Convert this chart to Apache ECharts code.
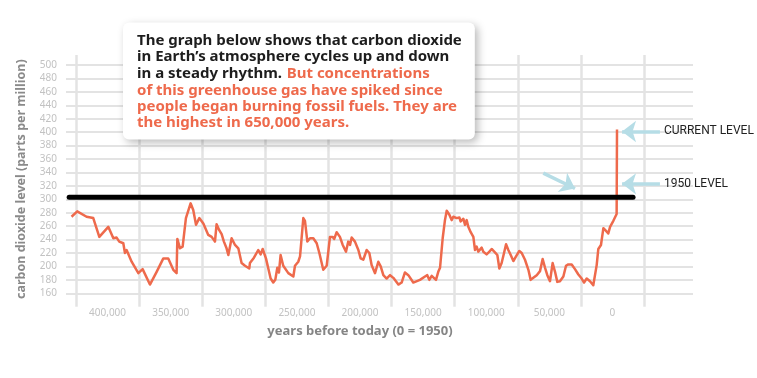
<!DOCTYPE html>
<html>
<head>
<meta charset="utf-8">
<script src="https://cdn.jsdelivr.net/npm/echarts@6/dist/echarts.min.js"></script>
<style>html,body{margin:0;padding:0;background:#fff;}#c{width:757px;height:378px;}</style>
</head>
<body>
<div id="c"></div>
<script>
// Years before 1950 (BP) and CO2 level (ppm)
const yearsBP = [432100,427600,420200,414900,410100,403000,399000,396400,394300,391100,389800,388500,384500,379200,375800,370000,364700,359400,355500,351500,348900,348300,346200,344100,341500,337800,335700,333500,330900,327700,323800,321100,318500,317200,315100,313200,311400,309300,307900,305300,302600,300000,297400,294700,291300,290800,287600,284200,282300,280700,278100,274400,272300,270700,269100,267800,266500,264400,260400,256400,255100,252500,251100,248500,247200,245300,243200,240600,237900,235800,234500,232700,230000,228700,227400,225300,224000,222100,219500,217300,214700,212900,211500,210200,207600,204900,203100,201000,198300,196200,194400,191700,189100,187200,185100,182500,179800,177200,173200,170600,168000,165300,161400,156100,152100,150300,148700,146800,143400,141600,140200,138100,136300,134900,132800,131000,129700,127000,124900,123900,121700,120400,119100,117800,115900,113800,112500,111200,109900,107200,105900,103300,101100,99300,96700,94800,93200,91400,89500,87900,86100,84200,82100,80000,77400,75500,72900,70200,68400,66300,63600,61000,58900,57000,55200,53100,51000,49100,47300,45200,42500,40400,38600,35900,33300,30600,28000,26100,24000,21400,18800,17400,16100,14800,12700,10800,8700,6900,5500,2900,300,0];
const co2ppm = [274,282,274,272,244,259,242,243,237,234.5,220,224.5,207,190,196,173,192,212,212,195,190,241,227,229.5,272,294,284,262,272,264,247,244,237,263,254,248,237,227,217,242,232,227,205,201,197,205,213,224.5,218,226,212,182,176,180,198,191,217,201,190,185,201,207,215,272,268,237,242,242,234.5,220,222,195,201,222,244,244,241,251,244,232,222,237,232,243,237,224.5,212,210,224.5,220,202,190,207,200,187,182,187,183,173,176,191,187,176,180,185,187,180,186,180,192,198,242,269,283,277,269,274,272,273,267,271,262,269,259,251,244,224.5,229.5,222,228,222,218,222,226,221,217,197,205,220,233,224.5,217,208,215,223,220,210,195,180,183,187,193,211,198,187,178,205,192,177,178,185,201,203,203,196,188,182,176,182,178,172,171,202,226,232,257,253,249,259,268,278,404];

// 1950 reference level (ppm) and its extent in years BP
const level1950 = 303;
const levelLineYears = [434000, -12700];

// Annotation arrows: [fromYear, fromPpm, toYear, toPpm]
const currentArrow = [-34000, 401, -4000, 401];
const level1950Arrow = [-34000, 323, -4000, 323];
const curvedArrow = [58400, 339, 33300, 316];
const currentLabel = 'CURRENT LEVEL';
const level1950Label = '1950 LEVEL';

// Tick labels
const xTickLabels = ['400,000','350,000','300,000','250,000','200,000','150,000','100,000','50,000','0'];
const yMin = 160, yMax = 500, yStep = 20;

const blackText = ['The graph below shows that carbon dioxide', 'in Earth\u2019s atmosphere cycles up and down', 'in a steady rhythm.'];
const orangeText = ['But concentrations', 'of this greenhouse gas have spiked since', 'people began burning fossil fuels. They are', 'the highest in 650,000 years.'];

const seriesData = yearsBP.map((y, i) => [y, co2ppm[i]]);

const chart = echarts.init(document.getElementById('c'), null, {renderer: 'canvas'});
const arrowColor = '#b6dde6';
const handFont = "Roboto, sans-serif";
const mainFont = "'Noto Sans', sans-serif";

const handLabel = (txt) => ({
  show: true, position: 'start', formatter: txt, distance: 4,
  color: '#222', fontSize: 12, fontFamily: handFont
});

chart.setOption({
  animation: false,
  backgroundColor: '#ffffff',
  title: {
    left: 123, top: 22,
    padding: [11, 13, 9, 14],
    backgroundColor: '#ffffff',
    borderRadius: 6,
    shadowBlur: 8,
    shadowColor: 'rgba(0,0,0,0.28)',
    shadowOffsetX: 3,
    shadowOffsetY: 3,
    text: '{a|' + blackText[0] + '}\n{a|' + blackText[1] + '}\n{a|' + blackText[2] + '} {b|' + orangeText[0] + '}\n{b|' + orangeText[1] + '}\n{b|' + orangeText[2] + '}\n{b|' + orangeText[3] + '}',
    textStyle: {
      fontFamily: mainFont,
      rich: {
        a: {color: '#1d1d1d', fontSize: 15, fontWeight: 'bold', fontFamily: mainFont, lineHeight: 16},
        b: {color: '#ee6a4c', fontSize: 15, fontWeight: 'bold', fontFamily: mainFont, lineHeight: 16}
      }
    }
  },
  grid: [
    {left: 66, right: 64, top: 65, bottom: 84.7},
    {left: 76, right: 113, top: 55, bottom: 71.3}
  ],
  xAxis: [
    {
      gridIndex: 0, type: 'value', inverse: true,
      min: -60200, max: 436500,
      axisLine: {show: false}, axisTick: {show: false}, axisLabel: {show: false}, splitLine: {show: false}
    },
    {
      gridIndex: 1, type: 'category', data: xTickLabels, boundaryGap: true,
      axisLine: {show: false}, axisTick: {show: false},
      axisLabel: {interval: 0, color: '#c2c2c2', fontSize: 10, fontFamily: mainFont, margin: 1},
      splitLine: {show: true, interval: 0, lineStyle: {color: '#e3e3e3', width: 2.5}},
      name: 'years before today (0 = 1950)', nameLocation: 'middle', nameGap: 18,
      nameTextStyle: {color: '#858585', fontSize: 13, fontWeight: 'bold', fontFamily: mainFont}
    }
  ],
  yAxis: [
    {
      gridIndex: 0, type: 'value', min: yMin, max: yMax, interval: yStep,
      axisLine: {show: false}, axisTick: {show: false},
      axisLabel: {color: '#c2c2c2', fontSize: 10, fontFamily: mainFont, margin: 9},
      splitLine: {show: true, lineStyle: {color: '#e3e3e3', width: 2}},
      name: 'carbon dioxide level (parts per million)', nameLocation: 'middle', nameGap: 38,
      nameTextStyle: {color: '#8a8a8a', fontSize: 12.5, fontWeight: 'bold', fontFamily: mainFont}
    },
    {gridIndex: 1, type: 'value', show: false, splitLine: {show: false}}
  ],
  series: [
    {
      type: 'line', xAxisIndex: 0, yAxisIndex: 0,
      data: seriesData, showSymbol: false, symbol: 'none',
      lineStyle: {color: '#ee6a4c', width: 2.5, join: 'round'},
      z: 3
    },
    {
      type: 'line', xAxisIndex: 0, yAxisIndex: 0,
      data: levelLineYears.map(y => [y, level1950]), showSymbol: false, symbol: 'none',
      lineStyle: {color: '#000000', width: 5, cap: 'round'},
      z: 4,
      markLine: {
        silent: true, symbol: ['none', 'arrow'], symbolSize: [16, 14],
        lineStyle: {color: arrowColor, width: 3.5, type: 'solid'},
        label: {show: false},
        data: [
          [{coord: [currentArrow[0], currentArrow[1]], label: handLabel(currentLabel)},
           {coord: [currentArrow[2], currentArrow[3]]}],
          [{coord: [level1950Arrow[0], level1950Arrow[1]], label: handLabel(level1950Label)},
           {coord: [level1950Arrow[2], level1950Arrow[3]]}],
          [{coord: [curvedArrow[0], curvedArrow[1]], lineStyle: {curveness: 0.3}, symbolSize: [12, 10]},
           {coord: [curvedArrow[2], curvedArrow[3]]}]
        ]
      }
    }
  ]
});
</script>
</body>
</html>
